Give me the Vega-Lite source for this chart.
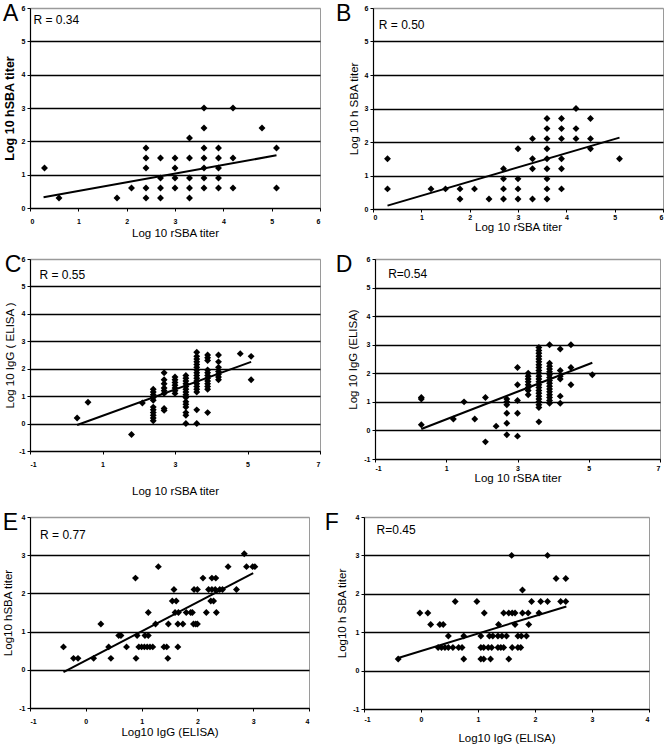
{
  "$schema": "https://vega.github.io/schema/vega-lite/v6.json",
  "padding": {"left": 2, "top": 2, "right": 0, "bottom": 0},
  "background": "white",
  "datasets": {
    "A": [
      {"x":0.3,"y":1.2},{"x":0.6,"y":0.3},{"x":1.8,"y":0.3},{"x":2.1,"y":0.6},
      {"x":2.4,"y":1.8},{"x":2.4,"y":1.5},{"x":2.4,"y":1.2},{"x":2.4,"y":0.6},{"x":2.4,"y":0.3},
      {"x":2.7,"y":1.5},{"x":2.7,"y":0.9},{"x":2.7,"y":0.6},{"x":2.7,"y":0.3},
      {"x":3.0,"y":1.5},{"x":3.0,"y":1.2},{"x":3.0,"y":0.9},{"x":3.0,"y":0.6},
      {"x":3.3,"y":2.1},{"x":3.3,"y":1.5},{"x":3.3,"y":0.9},{"x":3.3,"y":0.6},{"x":3.3,"y":0.3},
      {"x":3.6,"y":3.0},{"x":3.6,"y":2.4},{"x":3.6,"y":1.8},{"x":3.6,"y":1.5},{"x":3.6,"y":1.2},{"x":3.6,"y":0.9},{"x":3.6,"y":0.6},
      {"x":3.9,"y":1.8},{"x":3.9,"y":1.5},{"x":3.9,"y":1.2},{"x":3.9,"y":0.9},{"x":3.9,"y":0.6},
      {"x":4.2,"y":3.0},{"x":4.2,"y":1.5},{"x":4.2,"y":0.6},
      {"x":4.8,"y":2.4},{"x":5.1,"y":1.8},{"x":5.1,"y":0.6}
    ],
    "lineA": [{"x":0.28,"y":0.32},{"x":5.1,"y":1.58}],
    "B": [
      {"x":0.3,"y":1.5},{"x":0.3,"y":0.6},{"x":1.2,"y":0.6},{"x":1.5,"y":0.6},{"x":1.8,"y":0.6},{"x":1.8,"y":0.3},{"x":2.1,"y":0.6},{"x":2.4,"y":0.3},
      {"x":2.7,"y":1.2},{"x":2.7,"y":0.9},{"x":2.7,"y":0.6},{"x":2.7,"y":0.3},
      {"x":3.0,"y":1.8},{"x":3.0,"y":0.9},{"x":3.0,"y":0.6},{"x":3.0,"y":0.3},
      {"x":3.3,"y":2.1},{"x":3.3,"y":1.5},{"x":3.3,"y":1.2},{"x":3.3,"y":0.3},
      {"x":3.6,"y":2.7},{"x":3.6,"y":2.4},{"x":3.6,"y":2.1},{"x":3.6,"y":1.8},{"x":3.6,"y":1.5},{"x":3.6,"y":1.2},{"x":3.6,"y":0.9},{"x":3.6,"y":0.6},{"x":3.6,"y":0.3},
      {"x":3.9,"y":2.7},{"x":3.9,"y":2.4},{"x":3.9,"y":2.1},{"x":3.9,"y":1.5},{"x":3.9,"y":1.2},{"x":3.9,"y":0.6},
      {"x":4.2,"y":3.0},{"x":4.2,"y":2.4},{"x":4.2,"y":2.1},
      {"x":4.5,"y":2.7},{"x":4.5,"y":2.1},{"x":4.5,"y":1.8},
      {"x":5.1,"y":1.5}
    ],
    "lineB": [{"x":0.3,"y":0.1},{"x":5.1,"y":2.13}],
    "C": [
      {"x":0.3,"y":0.2},{"x":0.6,"y":0.78},{"x":1.8,"y":-0.4},{"x":2.1,"y":0.75},
      {"x":2.4,"y":1.25},{"x":2.4,"y":1.15},{"x":2.4,"y":1.05},{"x":2.4,"y":0.95},{"x":2.4,"y":0.85},{"x":2.4,"y":0.6},{"x":2.4,"y":0.5},{"x":2.4,"y":0.4},{"x":2.4,"y":0.3},{"x":2.4,"y":0.2},{"x":2.4,"y":0.1},
      {"x":2.7,"y":1.85},{"x":2.7,"y":1.6},{"x":2.7,"y":1.45},{"x":2.7,"y":1.3},{"x":2.7,"y":1.2},{"x":2.7,"y":1.1},{"x":2.7,"y":0.55},{"x":2.7,"y":0.48},
      {"x":3.0,"y":1.7},{"x":3.0,"y":1.6},{"x":3.0,"y":1.5},{"x":3.0,"y":1.4},{"x":3.0,"y":1.3},{"x":3.0,"y":1.2},{"x":3.0,"y":1.1},
      {"x":3.3,"y":1.75},{"x":3.3,"y":1.65},{"x":3.3,"y":1.55},{"x":3.3,"y":1.45},{"x":3.3,"y":1.35},{"x":3.3,"y":1.25},{"x":3.3,"y":1.15},{"x":3.3,"y":1.05},{"x":3.3,"y":0.95},{"x":3.3,"y":0.8},{"x":3.3,"y":0.7},{"x":3.3,"y":0.6},{"x":3.3,"y":0.4},{"x":3.3,"y":0.3},{"x":3.3,"y":0.0},
      {"x":3.6,"y":2.6},{"x":3.6,"y":2.45},{"x":3.6,"y":2.35},{"x":3.6,"y":2.25},{"x":3.6,"y":2.15},{"x":3.6,"y":2.05},{"x":3.6,"y":1.95},{"x":3.6,"y":1.85},{"x":3.6,"y":1.75},{"x":3.6,"y":1.65},{"x":3.6,"y":1.55},{"x":3.6,"y":1.45},{"x":3.6,"y":1.35},{"x":3.6,"y":1.25},{"x":3.6,"y":1.15},{"x":3.6,"y":0.5},{"x":3.6,"y":0.0},
      {"x":3.9,"y":2.5},{"x":3.9,"y":2.4},{"x":3.9,"y":2.3},{"x":3.9,"y":1.95},{"x":3.9,"y":1.85},{"x":3.9,"y":1.75},{"x":3.9,"y":1.65},{"x":3.9,"y":1.55},{"x":3.9,"y":1.45},{"x":3.9,"y":1.35},{"x":3.9,"y":1.25},{"x":3.9,"y":0.4},
      {"x":4.2,"y":2.5},{"x":4.2,"y":2.25},{"x":4.2,"y":2.05},{"x":4.2,"y":1.9},{"x":4.2,"y":1.8},{"x":4.2,"y":1.7},{"x":4.2,"y":1.6},
      {"x":4.8,"y":2.55},{"x":5.1,"y":2.45},{"x":5.1,"y":1.6}
    ],
    "lineC": [{"x":0.3,"y":-0.05},{"x":5.1,"y":2.25}],
    "D": [
      {"x":0.3,"y":1.15},{"x":0.3,"y":1.1},{"x":0.3,"y":0.2},{"x":1.2,"y":0.4},{"x":1.5,"y":1.0},{"x":1.8,"y":0.4},{"x":2.1,"y":1.15},{"x":2.1,"y":-0.4},{"x":2.4,"y":0.15},
      {"x":2.7,"y":1.1},{"x":2.7,"y":1.0},{"x":2.7,"y":0.9},{"x":2.7,"y":0.6},{"x":2.7,"y":0.25},{"x":2.7,"y":-0.15},
      {"x":3.0,"y":2.2},{"x":3.0,"y":1.6},{"x":3.0,"y":1.05},{"x":3.0,"y":0.6},{"x":3.0,"y":-0.2},
      {"x":3.3,"y":2.0},{"x":3.3,"y":1.9},{"x":3.3,"y":1.8},{"x":3.3,"y":1.7},{"x":3.3,"y":1.6},{"x":3.3,"y":1.5},{"x":3.3,"y":1.4},{"x":3.3,"y":1.25},
      {"x":3.6,"y":2.9},{"x":3.6,"y":2.8},{"x":3.6,"y":2.7},{"x":3.6,"y":2.6},{"x":3.6,"y":2.5},{"x":3.6,"y":2.4},{"x":3.6,"y":2.3},{"x":3.6,"y":2.2},{"x":3.6,"y":2.1},{"x":3.6,"y":2.0},{"x":3.6,"y":1.9},{"x":3.6,"y":1.8},{"x":3.6,"y":1.7},{"x":3.6,"y":1.6},{"x":3.6,"y":1.5},{"x":3.6,"y":1.4},{"x":3.6,"y":1.3},{"x":3.6,"y":1.2},{"x":3.6,"y":1.1},{"x":3.6,"y":1.0},{"x":3.6,"y":0.9},{"x":3.6,"y":0.8},{"x":3.6,"y":0.3},
      {"x":3.9,"y":3.0},{"x":3.9,"y":2.35},{"x":3.9,"y":2.25},{"x":3.9,"y":2.15},{"x":3.9,"y":2.05},{"x":3.9,"y":1.95},{"x":3.9,"y":1.85},{"x":3.9,"y":1.75},{"x":3.9,"y":1.65},{"x":3.9,"y":1.55},{"x":3.9,"y":1.45},{"x":3.9,"y":1.35},{"x":3.9,"y":1.25},{"x":3.9,"y":1.15},{"x":3.9,"y":1.05},{"x":3.9,"y":0.95},
      {"x":4.2,"y":2.85},{"x":4.2,"y":2.1},{"x":4.2,"y":1.9},{"x":4.2,"y":1.8},{"x":4.2,"y":1.2},{"x":4.2,"y":0.95},
      {"x":4.5,"y":3.0},{"x":4.5,"y":2.2},{"x":4.5,"y":1.6},
      {"x":5.1,"y":1.95}
    ],
    "lineD": [{"x":0.3,"y":0.05},{"x":5.1,"y":2.37}],
    "E": [
      {"x":-0.4,"y":0.6},{"x":-0.22,"y":0.3},{"x":-0.14,"y":0.3},{"x":0.14,"y":0.3},{"x":0.27,"y":1.2},{"x":0.41,"y":0.6},{"x":0.45,"y":0.3},{"x":0.59,"y":0.9},{"x":0.63,"y":0.9},{"x":0.73,"y":0.6},
      {"x":0.89,"y":2.4},{"x":0.9,"y":0.3},{"x":0.92,"y":0.9},{"x":0.95,"y":0.6},{"x":1.0,"y":0.6},{"x":1.05,"y":0.6},{"x":1.1,"y":0.6},{"x":1.15,"y":0.6},{"x":1.2,"y":0.6},
      {"x":1.06,"y":0.9},{"x":1.12,"y":0.9},{"x":1.12,"y":1.5},{"x":1.25,"y":1.2},{"x":1.3,"y":2.7},{"x":1.4,"y":0.6},{"x":1.45,"y":0.6},{"x":1.47,"y":0.3},{"x":1.48,"y":1.2},
      {"x":1.55,"y":1.8},{"x":1.62,"y":1.8},{"x":1.58,"y":2.1},{"x":1.6,"y":1.5},{"x":1.66,"y":1.5},{"x":1.65,"y":1.2},{"x":1.74,"y":1.2},{"x":1.65,"y":0.6},
      {"x":1.8,"y":1.5},{"x":1.88,"y":1.5},{"x":1.91,"y":1.5},{"x":1.93,"y":1.2},{"x":1.97,"y":1.2},{"x":2.0,"y":1.2},{"x":1.94,"y":2.1},{"x":2.0,"y":2.1},
      {"x":2.1,"y":2.4},{"x":2.16,"y":1.5},{"x":2.2,"y":2.1},{"x":2.26,"y":2.1},{"x":2.24,"y":1.8},{"x":2.29,"y":1.8},{"x":2.26,"y":2.4},{"x":2.33,"y":2.4},{"x":2.34,"y":1.5},
      {"x":2.32,"y":2.1},{"x":2.4,"y":2.1},{"x":2.45,"y":2.1},{"x":2.55,"y":2.7},{"x":2.7,"y":2.1},{"x":2.84,"y":3.04},{"x":2.88,"y":2.7},{"x":2.99,"y":2.7},{"x":3.03,"y":2.7}
    ],
    "lineE": [{"x":-0.4,"y":-0.06},{"x":3.0,"y":2.53}],
    "F": [
      {"x":-0.4,"y":0.3},{"x":-0.02,"y":1.5},{"x":0.12,"y":1.5},{"x":0.17,"y":1.2},{"x":0.33,"y":1.2},{"x":0.39,"y":1.2},
      {"x":0.3,"y":0.6},{"x":0.36,"y":0.6},{"x":0.42,"y":0.6},{"x":0.48,"y":0.6},{"x":0.56,"y":0.6},{"x":0.66,"y":0.6},{"x":0.72,"y":0.6},
      {"x":0.48,"y":0.9},{"x":0.6,"y":1.8},{"x":0.75,"y":0.9},{"x":0.75,"y":0.3},{"x":0.98,"y":1.8},
      {"x":1.05,"y":0.9},{"x":1.2,"y":0.9},{"x":1.26,"y":0.9},{"x":1.35,"y":0.9},{"x":1.42,"y":0.9},{"x":1.5,"y":0.9},
      {"x":1.05,"y":0.3},{"x":1.1,"y":0.3},{"x":1.05,"y":0.6},{"x":1.1,"y":0.6},{"x":1.18,"y":0.6},{"x":1.24,"y":0.6},{"x":1.22,"y":0.3},{"x":1.11,"y":1.5},
      {"x":1.35,"y":0.6},{"x":1.4,"y":0.6},{"x":1.45,"y":0.6},{"x":1.36,"y":1.2},{"x":1.45,"y":1.5},{"x":1.54,"y":1.5},{"x":1.6,"y":1.5},{"x":1.65,"y":1.5},
      {"x":1.54,"y":0.3},{"x":1.6,"y":0.6},{"x":1.7,"y":0.6},{"x":1.75,"y":0.6},{"x":1.59,"y":3.0},{"x":1.65,"y":1.2},{"x":1.7,"y":0.9},{"x":1.76,"y":0.9},
      {"x":1.78,"y":2.1},{"x":1.78,"y":1.5},{"x":1.88,"y":1.5},{"x":1.85,"y":0.9},{"x":1.89,"y":1.2},{"x":1.94,"y":1.8},{"x":2.07,"y":1.5},{"x":2.1,"y":1.8},{"x":2.22,"y":1.8},
      {"x":2.22,"y":3.0},{"x":2.37,"y":2.4},{"x":2.54,"y":2.4},{"x":2.45,"y":1.8},{"x":2.54,"y":1.8}
    ],
    "lineF": [{"x":-0.4,"y":0.33},{"x":2.55,"y":1.67}]
  },
  "spacing": 14,
  "vconcat": [
    {
      "spacing": 14,
      "hconcat": [
        {
          "title": {"text": "A"},
          "width": 290, "height": 200,
          "layer": [
            {"data": {"name": "A"}, "mark": {"type": "point", "shape": "diamond", "filled": true, "color": "black", "size": 48, "opacity": 1},
             "encoding": {
               "x": {"field": "x", "type": "quantitative", "scale": {"domain": [0, 6], "nice": false}, "axis": {"values": [0,1,2,3,4,5,6], "title": "Log 10 rSBA titer", "labelPadding": 6, "titlePadding": 3}},
               "y": {"field": "y", "type": "quantitative", "scale": {"domain": [0, 6], "nice": false}, "axis": {"values": [0,1,2,3,4,5,6], "title": "Log 10 hSBA titer", "titleFontWeight": "bold", "titleFontSize": 12.5, "gridColor": {"condition": {"test": "datum.value == 6", "value": "#9a9a9a"}, "value": "black"}}}
             }},
            {"data": {"name": "lineA"}, "mark": {"type": "line", "color": "black", "strokeWidth": 2}, "encoding": {"x": {"field": "x", "type": "quantitative"}, "y": {"field": "y", "type": "quantitative"}}},
            {"data": {"values": [{"label": "R = 0.34"}]}, "mark": {"type": "text", "align": "left", "baseline": "middle", "fontSize": 12, "font": "Liberation Sans"}, "encoding": {"text": {"field": "label"}, "x": {"datum": 0.07}, "y": {"datum": 5.64}}}
          ]
        },
        {
          "title": {"text": "B", "dx": -12},
          "width": 290, "height": 201,
          "layer": [
            {"data": {"name": "B"}, "mark": {"type": "point", "shape": "diamond", "filled": true, "color": "black", "size": 48, "opacity": 1},
             "encoding": {
               "x": {"field": "x", "type": "quantitative", "scale": {"domain": [0, 6], "nice": false}, "axis": {"values": [0,1,2,3,4,5,6], "title": "Log 10 rSBA titer", "labelPadding": 1, "titlePadding": 1}},
               "y": {"field": "y", "type": "quantitative", "scale": {"domain": [0, 6], "nice": false}, "axis": {"values": [0,1,2,3,4,5,6], "title": "Log 10 h SBA titer", "gridColor": {"condition": {"test": "datum.value == 6", "value": "#9a9a9a"}, "value": "black"}}}
             }},
            {"data": {"name": "lineB"}, "mark": {"type": "line", "color": "black", "strokeWidth": 2}, "encoding": {"x": {"field": "x", "type": "quantitative"}, "y": {"field": "y", "type": "quantitative"}}},
            {"data": {"values": [{"label": "R = 0.50"}]}, "mark": {"type": "text", "align": "left", "baseline": "middle", "fontSize": 12, "font": "Liberation Sans"}, "encoding": {"text": {"field": "label"}, "x": {"datum": 0.12}, "y": {"datum": 5.5}}}
          ]
        }
      ]
    },
    {
      "spacing": 14,
      "hconcat": [
        {
          "title": {"text": "C"},
          "width": 290, "height": 192,
          "layer": [
            {"data": {"name": "C"}, "mark": {"type": "point", "shape": "diamond", "filled": true, "color": "black", "size": 48, "opacity": 1},
             "encoding": {
               "x": {"field": "x", "type": "quantitative", "scale": {"domain": [-1, 7], "nice": false}, "axis": {"values": [-1,1,3,5,7], "title": "Log 10 rSBA titer", "labelPadding": 6, "titlePadding": 18}},
               "y": {"field": "y", "type": "quantitative", "scale": {"domain": [-1, 6], "nice": false}, "axis": {"values": [-1,0,1,2,3,4,5,6], "title": "Log 10 IgG ( ELISA )", "titlePadding": 3, "gridColor": {"condition": {"test": "datum.value == 6", "value": "#9a9a9a"}, "value": "black"}}}
             }},
            {"data": {"name": "lineC"}, "mark": {"type": "line", "color": "black", "strokeWidth": 2}, "encoding": {"x": {"field": "x", "type": "quantitative"}, "y": {"field": "y", "type": "quantitative"}}},
            {"data": {"values": [{"label": "R = 0.55"}]}, "mark": {"type": "text", "align": "left", "baseline": "middle", "fontSize": 12, "font": "Liberation Sans"}, "encoding": {"text": {"field": "label"}, "x": {"datum": -0.74}, "y": {"datum": 5.4}}}
          ]
        },
        {
          "title": {"text": "D", "dx": -12},
          "width": 285, "height": 200,
          "layer": [
            {"data": {"name": "D"}, "mark": {"type": "point", "shape": "diamond", "filled": true, "color": "black", "size": 48, "opacity": 1},
             "encoding": {
               "x": {"field": "x", "type": "quantitative", "scale": {"domain": [-1, 7], "nice": false}, "axis": {"values": [-1,1,3,5,7], "title": "Log  10 rSBA titer", "labelPadding": 2, "titlePadding": 1}},
               "y": {"field": "y", "type": "quantitative", "scale": {"domain": [-1, 6], "nice": false}, "axis": {"values": [-1,0,1,2,3,4,5,6], "title": "Log 10 IgG (ELISA)", "gridColor": {"condition": {"test": "datum.value == 6", "value": "#9a9a9a"}, "value": "black"}}}
             }},
            {"data": {"name": "lineD"}, "mark": {"type": "line", "color": "black", "strokeWidth": 2}, "encoding": {"x": {"field": "x", "type": "quantitative"}, "y": {"field": "y", "type": "quantitative"}}},
            {"data": {"values": [{"label": "R=0.54"}]}, "mark": {"type": "text", "align": "left", "baseline": "middle", "fontSize": 12, "font": "Liberation Sans"}, "encoding": {"text": {"field": "label"}, "x": {"datum": -0.63}, "y": {"datum": 5.46}}}
          ]
        }
      ]
    },
    {
      "spacing": 14,
      "hconcat": [
        {
          "title": {"text": "E"},
          "width": 279, "height": 191,
          "layer": [
            {"data": {"name": "E"}, "mark": {"type": "point", "shape": "diamond", "filled": true, "color": "black", "size": 48, "opacity": 1},
             "encoding": {
               "x": {"field": "x", "type": "quantitative", "scale": {"domain": [-1, 4], "nice": false}, "axis": {"values": [-1,0,1,2,3,4], "title": "Log10 IgG (ELISA)", "labelPadding": 6, "titlePadding": 2}},
               "y": {"field": "y", "type": "quantitative", "scale": {"domain": [-1, 4], "nice": false}, "axis": {"values": [-1,0,1,2,3,4], "title": "Log10 hSBA titer", "gridColor": {"condition": {"test": "datum.value == 4", "value": "#9a9a9a"}, "value": "black"}}}
             }},
            {"data": {"name": "lineE"}, "mark": {"type": "line", "color": "black", "strokeWidth": 2}, "encoding": {"x": {"field": "x", "type": "quantitative"}, "y": {"field": "y", "type": "quantitative"}}},
            {"data": {"values": [{"label": "R = 0.77"}]}, "mark": {"type": "text", "align": "left", "baseline": "middle", "fontSize": 12, "font": "Liberation Sans"}, "encoding": {"text": {"field": "label"}, "x": {"datum": -0.82}, "y": {"datum": 3.53}}}
          ]
        },
        {
          "title": {"text": "F", "dx": -12},
          "width": 285, "height": 192,
          "layer": [
            {"data": {"name": "F"}, "mark": {"type": "point", "shape": "diamond", "filled": true, "color": "black", "size": 48, "opacity": 1},
             "encoding": {
               "x": {"field": "x", "type": "quantitative", "scale": {"domain": [-1, 4], "nice": false}, "axis": {"values": [-1,0,1,2,3,4], "title": "Log10 IgG (ELISA)", "labelPadding": 3, "titlePadding": 10}},
               "y": {"field": "y", "type": "quantitative", "scale": {"domain": [-1, 4], "nice": false}, "axis": {"values": [-1,0,1,2,3,4], "title": "Log10 h SBA titer", "gridColor": {"condition": {"test": "datum.value == 4", "value": "#9a9a9a"}, "value": "black"}}}
             }},
            {"data": {"name": "lineF"}, "mark": {"type": "line", "color": "black", "strokeWidth": 2}, "encoding": {"x": {"field": "x", "type": "quantitative"}, "y": {"field": "y", "type": "quantitative"}}},
            {"data": {"values": [{"label": "R=0.45"}]}, "mark": {"type": "text", "align": "left", "baseline": "middle", "fontSize": 12, "font": "Liberation Sans"}, "encoding": {"text": {"field": "label"}, "x": {"datum": -0.78}, "y": {"datum": 3.67}}}
          ]
        }
      ]
    }
  ],
  "config": {
    "view": {"stroke": "#9a9a9a", "strokeWidth": 1},
    "axis": {
      "domainColor": "black", "domainWidth": 1.2, "tickColor": "black", "tickSize": 3, "tickCount": 20,
      "labelExpr": "'' + datum.value", "labelOverlap": false,
      "labelFont": "Liberation Sans", "labelFontSize": 7, "labelFontWeight": "bold", "labelColor": "black", "labelPadding": 2,
      "titleFont": "Liberation Sans", "titleFontSize": 11.5, "titleFontWeight": "normal", "titleColor": "black", "titlePadding": 5
    },
    "axisX": {"grid": false},
    "axisY": {"grid": true, "gridWidth": 1.3},
    "title": {"font": "Liberation Sans", "fontSize": 23, "fontWeight": "normal", "color": "black", "anchor": "start", "frame": "bounds", "offset": -22}
  }
}
